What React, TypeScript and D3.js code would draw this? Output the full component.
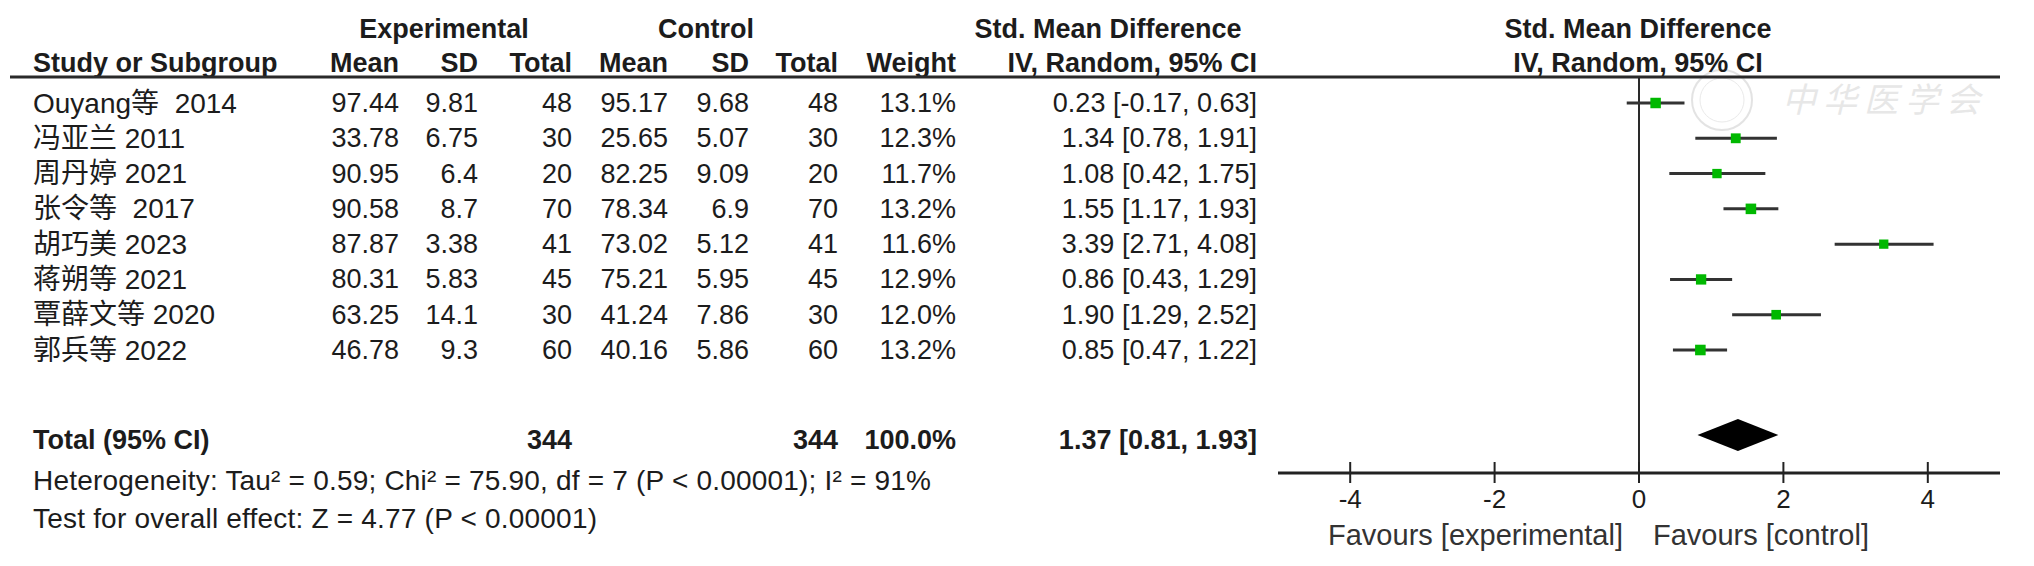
import * as d3 from "d3";

// forest plot data
const studies = ["Ouyang等\u00a0 2014", "冯亚兰 2011", "周丹婷 2021", "张令等\u00a0 2017", "胡巧美 2023", "蒋朔等 2021", "覃薛文等 2020", "郭兵等 2022"];
const expMean = [97.44, 33.78, 90.95, 90.58, 87.87, 80.31, 63.25, 46.78];
const expSD = [9.81, 6.75, 6.4, 8.7, 3.38, 5.83, 14.1, 9.3];
const expN = [48, 30, 20, 70, 41, 45, 30, 60];
const ctrlMean = [95.17, 25.65, 82.25, 78.34, 73.02, 75.21, 41.24, 40.16];
const ctrlSD = [9.68, 5.07, 9.09, 6.9, 5.12, 5.95, 7.86, 5.86];
const ctrlN = [48, 30, 20, 70, 41, 45, 30, 60];
const weights = [13.1, 12.3, 11.7, 13.2, 11.6, 12.9, 12.0, 13.2];
const smd = [0.23, 1.34, 1.08, 1.55, 3.39, 0.86, 1.9, 0.85];
const ciLow = [-0.17, 0.78, 0.42, 1.17, 2.71, 0.43, 1.29, 0.47];
const ciHigh = [0.63, 1.91, 1.75, 1.93, 4.08, 1.29, 2.52, 1.22];

const total = { expN: 344, ctrlN: 344, weight: 100.0, est: 1.37, lo: 0.81, hi: 1.93 };
const heterogeneity = "Heterogeneity: Tau² = 0.59; Chi² = 75.90, df = 7 (P < 0.00001); I² = 91%";
const overall = "Test for overall effect: Z = 4.77 (P < 0.00001)";
const axisDomain = [-5, 5];

const W = 2034;
const H = 566;
const FONT = "'Liberation Sans', Arial, 'Noto Sans CJK SC', sans-serif";
const FS = 27;
const INK = "#1c1c1c";

// column right edges
const col = { eMean: 399, eSD: 478, eN: 572, cMean: 668, cSD: 749, cN: 838, w: 956, ci: 1257 };

export default function App() {
  const x = d3.scaleLinear().domain(axisDomain).range([1278, 2000]);
  const rows = studies.map((_, i) => i);
  const y = d3.scalePoint<number>().domain(rows).range([103, 350]);
  const totalY = 435;
  const axisY = 473;
  const headerLine = 77;
  const ticks = x.ticks(5);

  const fmt2 = (v: number) => v.toFixed(2);
  const ciText = (e: number, l: number, h: number) => `${fmt2(e)} [${fmt2(l)}, ${fmt2(h)}]`;

  const num = (xx: number, yy: number, t: string | number, bold = false) => (
    <text x={xx} y={yy} textAnchor="end" dominantBaseline="central" fontWeight={bold ? "bold" : "normal"}>
      {t}
    </text>
  );

  const diamond = `M${x(total.lo)},${totalY} L${x(total.est)},${totalY - 16} L${x(total.hi)},${totalY} L${x(total.est)},${totalY + 16} Z`;

  return (
    <svg width={W} height={H} style={{ position: "absolute", left: 0, top: 0, background: "#fff" }}
      fontFamily={FONT} fontSize={FS} fill={INK}>
      {/* watermark */}
      <g opacity={0.4}>
        <circle cx={1722} cy={100} r={30} fill="none" stroke="#bbb" strokeWidth={2} />
        <circle cx={1722} cy={100} r={22} fill="none" stroke="#ccc" strokeWidth={1} />
        <text x={1782} y={100} dominantBaseline="central" fontSize={34} fill="#c4c4c4" letterSpacing={7} fontStyle="italic">中华医学会</text>
      </g>

      {/* headers */}
      <g fontWeight="bold">
        <text x={444} y={38} textAnchor="middle">Experimental</text>
        <text x={706} y={38} textAnchor="middle">Control</text>
        <text x={1108} y={38} textAnchor="middle">Std. Mean Difference</text>
        <text x={1638} y={38} textAnchor="middle">Std. Mean Difference</text>
        <text x={33} y={72}>Study or Subgroup</text>
        <text x={col.eMean} y={72} textAnchor="end">Mean</text>
        <text x={col.eSD} y={72} textAnchor="end">SD</text>
        <text x={col.eN} y={72} textAnchor="end">Total</text>
        <text x={col.cMean} y={72} textAnchor="end">Mean</text>
        <text x={col.cSD} y={72} textAnchor="end">SD</text>
        <text x={col.cN} y={72} textAnchor="end">Total</text>
        <text x={col.w} y={72} textAnchor="end">Weight</text>
        <text x={col.ci} y={72} textAnchor="end">IV, Random, 95% CI</text>
        <text x={1638} y={72} textAnchor="middle">IV, Random, 95% CI</text>
      </g>
      <line x1={10} x2={2000} y1={headerLine} y2={headerLine} stroke="#2a2a2a" strokeWidth={3} />

      {/* study rows */}
      {rows.map((i) => {
        const yy = y(i)!;
        return (
          <g key={i}>
            <text x={33} y={yy} dominantBaseline="central" fontSize={28}>{studies[i]}</text>
            {num(col.eMean, yy, expMean[i].toFixed(2))}
            {num(col.eSD, yy, String(expSD[i]))}
            {num(col.eN, yy, expN[i])}
            {num(col.cMean, yy, ctrlMean[i].toFixed(2))}
            {num(col.cSD, yy, String(ctrlSD[i]))}
            {num(col.cN, yy, ctrlN[i])}
            {num(col.w, yy, weights[i].toFixed(1) + "%")}
            {num(col.ci, yy, ciText(smd[i], ciLow[i], ciHigh[i]))}
          </g>
        );
      })}

      {/* total row */}
      <text x={33} y={totalY + 5} dominantBaseline="central" fontWeight="bold">Total (95% CI)</text>
      {num(col.eN, totalY + 5, total.expN, true)}
      {num(col.cN, totalY + 5, total.ctrlN, true)}
      {num(col.w, totalY + 5, total.weight.toFixed(1) + "%", true)}
      {num(col.ci, totalY + 5, ciText(total.est, total.lo, total.hi), true)}
      <text x={33} y={490} fontSize={28} textLength={898} lengthAdjust="spacing">{heterogeneity}</text>
      <text x={33} y={528} fontSize={28} textLength={564} lengthAdjust="spacing">{overall}</text>

      {/* plot */}
      <line x1={x(0)} x2={x(0)} y1={headerLine} y2={axisY} stroke="#2a2a2a" strokeWidth={2} />
      {rows.map((i) => {
        const yy = y(i)!;
        const s = weights[i] * 0.8;
        return (
          <g key={"m" + i}>
            <line x1={x(ciLow[i])} x2={x(ciHigh[i])} y1={yy} y2={yy} stroke="#333" strokeWidth={3} />
            <rect x={x(smd[i]) - s / 2} y={yy - s / 2} width={s} height={s} fill="#00b800" />
          </g>
        );
      })}
      <path d={diamond} fill="#000" />

      {/* axis */}
      <line x1={x(axisDomain[0])} x2={x(axisDomain[1])} y1={axisY} y2={axisY} stroke="#222" strokeWidth={3} />
      {ticks.map((t) => (
        <g key={t}>
          <line x1={x(t)} x2={x(t)} y1={axisY - 11} y2={axisY + 10} stroke="#222" strokeWidth={2} />
          <text x={x(t)} y={508} textAnchor="middle" fontSize={26}>{t}</text>
        </g>
      ))}
      <text x={x(0) - 16} y={545} textAnchor="end" fill="#333" fontSize={29}>Favours [experimental]</text>
      <text x={x(0) + 14} y={545} fill="#333" fontSize={29}>Favours [control]</text>
    </svg>
  );
}
